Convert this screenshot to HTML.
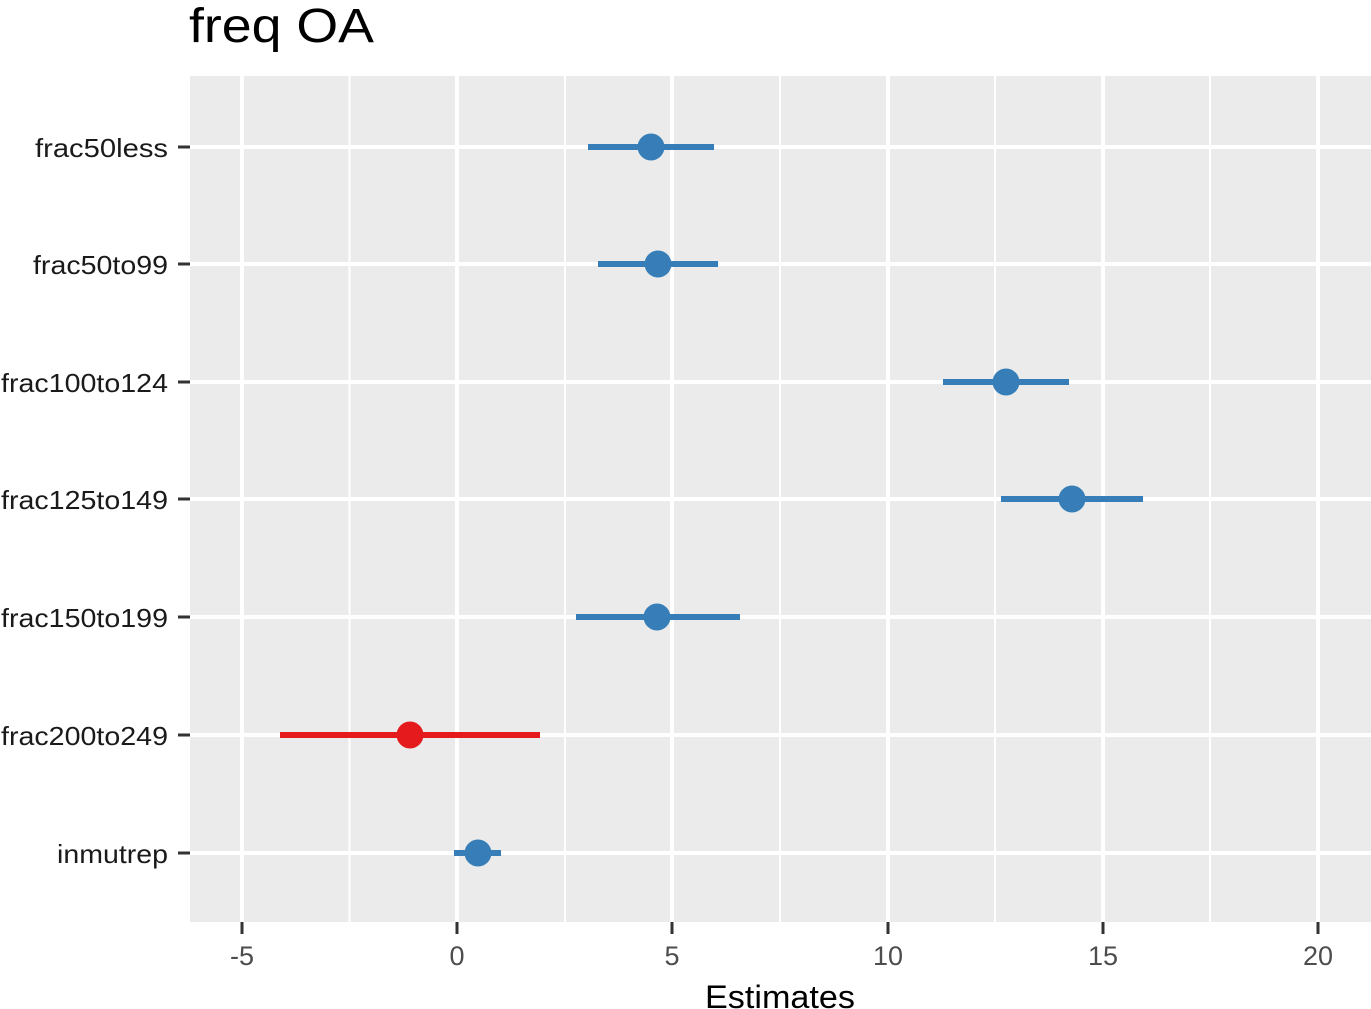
<!DOCTYPE html>
<html><head><meta charset="utf-8"><style>body{margin:0;background:#fff}svg{display:block}</style></head><body>
<svg width="1371" height="1009" xmlns="http://www.w3.org/2000/svg" font-family="Liberation Sans, sans-serif">
<rect x="0" y="0" width="1371" height="1009" fill="#fff"/>
<rect x="190" y="76" width="1181" height="846" fill="#EBEBEB"/>
<g stroke="#fff" stroke-width="2">
<line x1="349.5" y1="76" x2="349.5" y2="922"/><line x1="565" y1="76" x2="565" y2="922"/><line x1="780" y1="76" x2="780" y2="922"/><line x1="995" y1="76" x2="995" y2="922"/><line x1="1210" y1="76" x2="1210" y2="922"/>
</g>
<g stroke="#fff" stroke-width="4">
<line x1="242" y1="76" x2="242" y2="922"/><line x1="457" y1="76" x2="457" y2="922"/><line x1="672" y1="76" x2="672" y2="922"/><line x1="888" y1="76" x2="888" y2="922"/><line x1="1103" y1="76" x2="1103" y2="922"/><line x1="1318" y1="76" x2="1318" y2="922"/>
<line x1="190" y1="147" x2="1371" y2="147"/><line x1="190" y1="264" x2="1371" y2="264"/><line x1="190" y1="382" x2="1371" y2="382"/><line x1="190" y1="499" x2="1371" y2="499"/><line x1="190" y1="617" x2="1371" y2="617"/><line x1="190" y1="735" x2="1371" y2="735"/><line x1="190" y1="853" x2="1371" y2="853"/>
</g>
<g stroke="#333" stroke-width="3">
<line x1="178" y1="147" x2="190" y2="147"/><line x1="178" y1="264" x2="190" y2="264"/><line x1="178" y1="382" x2="190" y2="382"/><line x1="178" y1="499" x2="190" y2="499"/><line x1="178" y1="617" x2="190" y2="617"/><line x1="178" y1="735" x2="190" y2="735"/><line x1="178" y1="853" x2="190" y2="853"/>
<line x1="242" y1="922" x2="242" y2="934"/><line x1="457" y1="922" x2="457" y2="934"/><line x1="672" y1="922" x2="672" y2="934"/><line x1="888" y1="922" x2="888" y2="934"/><line x1="1103" y1="922" x2="1103" y2="934"/><line x1="1318" y1="922" x2="1318" y2="934"/>
</g>
<g stroke="#377EB8" stroke-width="6">
<line x1="588" y1="147" x2="714" y2="147"/><line x1="598" y1="264" x2="718" y2="264"/><line x1="943" y1="382" x2="1069" y2="382"/><line x1="1001" y1="499" x2="1143" y2="499"/><line x1="576" y1="617" x2="740" y2="617"/><line x1="454" y1="853" x2="501" y2="853"/>
</g>
<line x1="280" y1="735" x2="540" y2="735" stroke="#E41A1C" stroke-width="6"/>
<g fill="#377EB8">
<circle cx="651" cy="147" r="13.5"/><circle cx="658" cy="264" r="13.5"/><circle cx="1006" cy="382" r="13.5"/><circle cx="1072" cy="499" r="13.5"/><circle cx="657" cy="617" r="13.5"/><circle cx="478" cy="853" r="13.5"/>
</g>
<circle cx="410" cy="735" r="13.5" fill="#E41A1C"/>
<g font-size="26" fill="#1a1a1a" lengthAdjust="spacingAndGlyphs">
<text x="35" y="157" textLength="133" lengthAdjust="spacingAndGlyphs">frac50less</text>
<text x="33" y="274" textLength="135" lengthAdjust="spacingAndGlyphs">frac50to99</text>
<text x="1" y="392" textLength="167" lengthAdjust="spacingAndGlyphs">frac100to124</text>
<text x="1" y="509" textLength="167" lengthAdjust="spacingAndGlyphs">frac125to149</text>
<text x="1" y="627" textLength="167" lengthAdjust="spacingAndGlyphs">frac150to199</text>
<text x="1" y="745" textLength="167" lengthAdjust="spacingAndGlyphs">frac200to249</text>
<text x="57" y="863" textLength="111" lengthAdjust="spacingAndGlyphs">inmutrep</text>
</g>
<g font-size="27" fill="#4d4d4d" text-anchor="middle">
<text x="242" y="965">-5</text><text x="457" y="965">0</text><text x="672" y="965">5</text><text x="888" y="965">10</text><text x="1103" y="965">15</text><text x="1318" y="965">20</text>
</g>
<text x="705" y="1008" font-size="32" fill="#000" textLength="150" lengthAdjust="spacingAndGlyphs">Estimates</text>
<text x="189" y="42" font-size="48" fill="#000" textLength="185" lengthAdjust="spacingAndGlyphs">freq OA</text>
</svg>
</body></html>
